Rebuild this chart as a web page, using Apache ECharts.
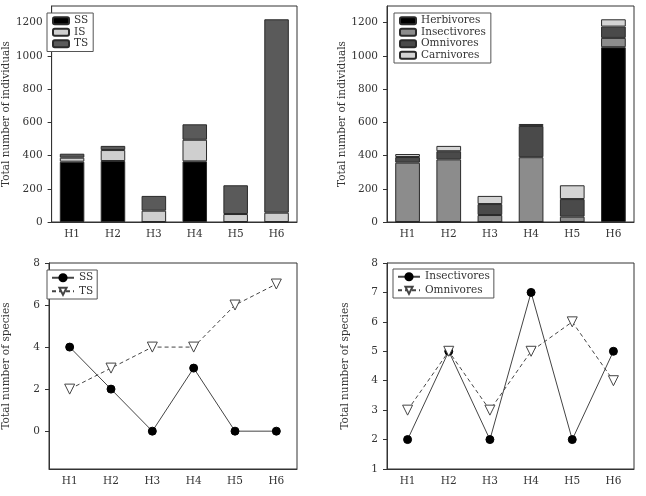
<!DOCTYPE html>
<html>
<head>
<meta charset="utf-8">
<script src="https://cdn.jsdelivr.net/npm/echarts@6/dist/echarts.min.js"></script>
<style>html,body{margin:0;padding:0;background:#fff}#c{width:646px;height:496px}</style>
</head>
<body>
<div id="c"></div>
<script>
// ---- data ----
const categories = ['H1','H2','H3','H4','H5','H6'];
// top-left: individuals by status
const indSS = [363, 367, 0, 365, 0, 0];
const indIS = [24, 66, 68, 130, 48, 56];
const indTS = [24, 25, 89, 93, 173, 1164];
// top-right: individuals by diet
const indHerb = [0, 0, 0, 0, 0, 1052];
const indInsect = [357, 377, 42, 390, 32, 56];
const indOmni = [34, 49, 66, 188, 106, 68];
const indCarni = [18, 32, 49, 12, 83, 44];
// bottom-left: species by status
const spSS = [4, 2, 0, 3, 0, 0];
const spTS = [2, 3, 4, 4, 6, 7];
// bottom-right: species by diet
const spInsect = [2, 5, 2, 7, 2, 5];
const spOmni = [3, 5, 3, 5, 6, 4];
// tick labels
const ticksInd = [0, 200, 400, 600, 800, 1000, 1200];
const ticksSpL = [0, 2, 4, 6, 8];
const ticksSpR = [1, 2, 3, 4, 5, 6, 7, 8];

const FONT = 'DejaVu Serif';
const AX = '#333';
const TXT = '#333';

function xAxis(gi){
  return {type:'category', gridIndex:gi, data:categories,
    axisLine:{onZero:false,lineStyle:{color:AX,width:1}},
    axisTick:{alignWithLabel:true,length:4,lineStyle:{color:AX}},
    axisLabel:{color:TXT,fontFamily:FONT,fontSize:10.5,margin:7}};
}
function yAxis(gi,min,max,ticks,name,gap){
  return {type:'value', gridIndex:gi, min:min, max:max,
    name:name, nameLocation:'middle', nameGap:gap,
    nameTextStyle:{color:TXT,fontFamily:FONT,fontSize:10.5},
    splitLine:{show:false},
    axisLine:{show:true,onZero:false,lineStyle:{color:AX,width:1}},
    axisTick:{show:true,length:4,customValues:ticks,lineStyle:{color:AX}},
    axisLabel:{color:TXT,fontFamily:FONT,fontSize:10.5,margin:9,customValues:ticks,
      formatter: v => String(v)}};
}
const barBorder = {borderColor:'#2a2a2a',borderWidth:1};
function bar(name,data,color,xi,stack){
  return {type:'bar',name:name,xAxisIndex:xi,yAxisIndex:xi,stack:stack,barWidth:'60%',
    data:data,itemStyle:Object.assign({color:color},barBorder),emphasis:{disabled:true}};
}
function line(name,data,solid,xi){
  return {type:'line',name:name,xAxisIndex:xi,yAxisIndex:xi,data:data,
    symbol: solid ? 'circle' : 'triangle', symbolRotate: solid ? 0 : 180,
    symbolSize: solid ? 8 : 10,
    lineStyle:{color:'#444',width:1,type: solid ? 'solid' : [4,3]},
    itemStyle: solid ? {color:'#000',borderColor:'#000',borderWidth:1} : {color:'#fff',borderColor:'#444',borderWidth:1},
    emphasis:{disabled:true}};
}
const legendBase = {orient:'vertical', backgroundColor:'#fff', borderColor:'#555', borderWidth:1,
  borderRadius:0, textStyle:{color:TXT,fontFamily:FONT,fontSize:10.5,lineHeight:11.5},
  selectedMode:false, formatter: n => n.trim()};

const option = {
  animation:false,
  grid:[
    {left:42, top:6, width:255, height:216, show:true, borderColor:AX, borderWidth:1},
    {left:387, top:6, width:247, height:216, show:true, borderColor:AX, borderWidth:1},
    {left:42, top:263, width:255, height:206, show:true, borderColor:AX, borderWidth:1},
    {left:387, top:263, width:247, height:206, show:true, borderColor:AX, borderWidth:1}
  ],
  xAxis:[xAxis(0),xAxis(1),xAxis(2),xAxis(3)],
  yAxis:[
    yAxis(0,0,1300,ticksInd,'Total number of individuals',37),
    yAxis(1,0,1300,ticksInd,'Total number of individuals',36),
    yAxis(2,-1.8,8,ticksSpL,'Total number of species',37),
    yAxis(3,1,8,ticksSpR,'Total number of species',36)
  ],
  legend:[
    Object.assign({}, legendBase, {left:47, top:13, padding:[2,5,2,5], itemWidth:16, itemHeight:7, itemGap:0,
      data:['SS','IS','TS']}),
    Object.assign({}, legendBase, {left:394, top:13, padding:[2,5,2,5], itemWidth:16, itemHeight:7, itemGap:0,
      data:['Herbivores','Insectivores','Omnivores','Carnivores']}),
    Object.assign({}, legendBase, {left:47, top:270, padding:[2,4,2,4], itemWidth:22, itemHeight:9, itemGap:2,
      data:['SS ','TS ']}),
    Object.assign({}, legendBase, {left:393, top:269, padding:[2,4,2,4], itemWidth:22, itemHeight:9, itemGap:2,
      data:['Insectivores ','Omnivores ']})
  ],
  series:[
    bar('SS',indSS,'#000000',0,'a'),
    bar('IS',indIS,'#cfcfcf',0,'a'),
    bar('TS',indTS,'#5a5a5a',0,'a'),
    bar('Herbivores',indHerb,'#000000',1,'b'),
    bar('Insectivores',indInsect,'#8c8c8c',1,'b'),
    bar('Omnivores',indOmni,'#4a4a4a',1,'b'),
    bar('Carnivores',indCarni,'#d4d4d4',1,'b'),
    line('SS ',spSS,true,2),
    line('TS ',spTS,false,2),
    line('Insectivores ',spInsect,true,3),
    line('Omnivores ',spOmni,false,3)
  ]
};
echarts.init(document.getElementById('c'),null,{renderer:'canvas'}).setOption(option);
</script>
</body>
</html>
